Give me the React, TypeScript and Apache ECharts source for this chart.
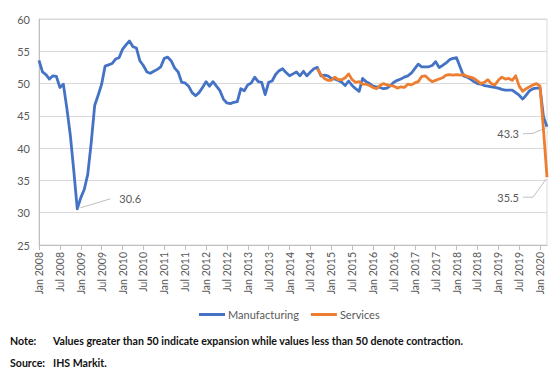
import React, { useEffect, useRef } from "react";
import * as echarts from "echarts";

const START_YEAR = 2008;
const MONTH_NAMES = ["Jan", "Feb", "Mar", "Apr", "May", "Jun", "Jul", "Aug", "Sep", "Oct", "Nov", "Dec"];
const MONTH_COUNT = 147; // Jan 2008 .. Mar 2020
const SERVICES_START = 80; // Sep 2014

const manufacturing = [
  53.6, 51.8, 51.4, 50.7, 51.2, 51.1, 49.4, 49.9, 46.2, 42.0, 36.5, 30.6,
  32.3, 33.6, 35.9, 40.8, 46.6, 48.2, 49.9, 52.7, 52.9, 53.1, 53.8, 54.0,
  55.3, 56.0, 56.6, 55.7, 55.5, 53.5, 52.8, 51.8, 51.6, 51.9, 52.2, 52.6,
  53.9, 54.1, 53.5, 52.4, 51.8, 50.2, 50.1, 49.6, 48.6, 48.1, 48.6, 49.4,
  50.3, 49.6, 50.3, 49.6, 48.9, 47.6, 47.0, 46.9, 47.1, 47.2, 49.2, 48.9,
  49.8, 50.1, 51.0, 50.3, 50.2, 48.3, 50.2, 50.4, 51.4, 52.0, 52.3, 51.7,
  51.2, 51.5, 51.8, 51.2, 51.9, 51.2, 51.8, 52.3, 52.5, 51.2, 51.3, 51.2,
  50.8, 50.7, 50.5, 50.2, 49.7, 50.4, 49.7, 49.2, 48.8, 50.8, 50.3, 50.0,
  49.6, 49.5, 49.4, 49.2, 49.3, 49.7, 50.2, 50.5, 50.7, 51.0, 51.2, 51.6,
  52.3, 53.0, 52.6, 52.6, 52.6, 52.8, 53.4, 52.5, 52.8, 53.2, 53.7, 53.9,
  54.0, 52.6, 51.2, 51.0, 50.7, 50.3, 50.0, 49.9, 49.7, 49.6, 49.5, 49.4,
  49.3, 49.1, 49.0, 49.0, 49.0, 48.6, 48.2, 47.6, 48.2, 48.9, 49.2, 49.3,
  49.3, 44.8, 43.3,
];

const services = [
  52.3, 51.4, 50.8, 50.5,
  50.5, 51.0, 50.6, 50.6, 50.9, 51.5, 50.6, 50.2, 50.3, 49.9, 49.9, 49.7,
  49.4, 49.2, 49.7, 50.0, 49.8, 49.7, 49.6, 49.3, 49.5, 49.4, 49.9, 49.8,
  50.1, 50.3, 51.1, 51.2, 50.7, 50.3, 50.5, 50.7, 50.9, 51.3, 51.4, 51.3,
  51.4, 51.3, 51.4, 51.1, 51.0, 50.8, 50.4, 50.0, 50.2, 50.6, 50.0, 49.8,
  50.5, 51.0, 50.7, 50.8, 50.5, 51.2, 49.6, 48.8, 49.2, 49.5, 49.8, 50.0,
  49.6, 42.8, 35.5,
];

const yTicks = { min: 25, max: 60, interval: 5 };
const annotations = [
  { series: 0, index: 11, text: "30.6" },
  { series: 0, index: 146, text: "43.3" },
  { series: 1, index: 146, text: "35.5" },
];
const seriesNames = ["Manufacturing", "Services"];
const noteLines = [
  ["Note:", "Values greater than 50 indicate expansion while values less than 50 denote contraction."],
  ["Source:", "IHS Markit."],
];

const categories: string[] = [];
for (let i = 0; i < MONTH_COUNT; i++) {
  categories.push(`${MONTH_NAMES[i % 12]} ${START_YEAR + Math.floor(i / 12)}`);
}

export default function App() {
  const ref = useRef<HTMLDivElement>(null);
  useEffect(() => {
    document.body.style.margin = "0";
    const chart = echarts.init(ref.current!, null, { renderer: "svg" });
    const servicesData: (number | null)[] = new Array(SERVICES_START).fill(null).concat(services);
    const font = "Lato, 'Liberation Sans', sans-serif";
    chart.setOption({
      animation: false,
      backgroundColor: "#ffffff",
      textStyle: { fontFamily: font },
      grid: { left: 39, right: 10, top: 19, bottom: 128, show: true, borderColor: "#d9d9d9", borderWidth: 1 },
      legend: {
        left: 194,
        top: 304,
        itemWidth: 26,
        itemHeight: 3,
        itemGap: 12,
        icon: "rect",
        textStyle: { color: "#595959", fontSize: 11, fontFamily: font, padding: [0, 0, 0, -2] },
        data: seriesNames,
      },
      xAxis: {
        type: "category",
        data: categories,
        boundaryGap: false,
        axisLine: { lineStyle: { color: "#bfbfbf" } },
        axisTick: { interval: 5, length: 5, lineStyle: { color: "#bfbfbf" } },
        axisLabel: { interval: 5, rotate: 90, color: "#595959", fontSize: 10.5, margin: 7, fontFamily: font },
        splitLine: { show: false },
      },
      yAxis: {
        type: "value",
        min: yTicks.min,
        max: yTicks.max,
        interval: yTicks.interval,
        axisLine: { show: true, lineStyle: { color: "#bfbfbf" } },
        axisTick: { show: false },
        axisLabel: { color: "#595959", fontSize: 11, margin: 9, fontFamily: font },
        splitLine: { lineStyle: { color: "#d9d9d9" } },
      },
      series: [
        {
          name: seriesNames[0],
          type: "line",
          data: manufacturing,
          showSymbol: false,
          symbol: "none",
          lineStyle: { color: "#4472C4", width: 2.8, join: "round" },
          itemStyle: { color: "#4472C4" },
          z: 2,
        },
        {
          name: seriesNames[1],
          type: "line",
          data: servicesData,
          showSymbol: false,
          symbol: "none",
          lineStyle: { color: "#ED7D31", width: 2.8, join: "round" },
          itemStyle: { color: "#ED7D31" },
          z: 3,
        },
      ],
    });

    const seriesValues = [manufacturing, servicesData];
    const graphics: any[] = [];
    annotations.forEach((a, k) => {
      const v = seriesValues[a.series][a.index] as number;
      const [px, py] = chart.convertToPixel({ seriesIndex: a.series }, [a.index, v]) as number[];
      const lineStyle = { stroke: "#bfbfbf", lineWidth: 1, fill: null };
      const txtStyle = { fill: "#595959", fontSize: 11, fontFamily: font, verticalAlign: "middle" };
      if (k === 0) {
        graphics.push({ type: "polyline", shape: { points: [[px + 3, py - 1], [px + 33, py - 10]] }, style: lineStyle, silent: true });
        graphics.push({ type: "text", x: px + 42, y: py - 10, style: { ...txtStyle, text: a.text, textAlign: "left" } });
      } else if (k === 1) {
        graphics.push({ type: "polyline", shape: { points: [[px - 1, py + 1], [px - 14, py + 6.5], [px - 24, py + 7]] }, style: lineStyle, silent: true });
        graphics.push({ type: "text", x: px - 28, y: py + 7, style: { ...txtStyle, text: a.text, textAlign: "right" } });
      } else {
        graphics.push({ type: "polyline", shape: { points: [[px - 1, py + 2], [px - 14, py + 20], [px - 24, py + 20]] }, style: lineStyle, silent: true });
        graphics.push({ type: "text", x: px - 28, y: py + 20, style: { ...txtStyle, text: a.text, textAlign: "right" } });
      }
    });
    noteLines.forEach((ln, i) => {
      const y = 341 + i * 22;
      const st = { fill: "#111111", fontSize: 10.6, fontWeight: "bold", fontFamily: font, verticalAlign: "middle" };
      graphics.push({ type: "text", x: 10, y, style: { ...st, text: ln[0] } });
      graphics.push({ type: "text", x: 53, y, style: { ...st, text: ln[1] } });
    });
    chart.setOption({ graphic: graphics });

    return () => chart.dispose();
  }, []);
  return <div ref={ref} style={{ width: 557, height: 373 }} />;
}
